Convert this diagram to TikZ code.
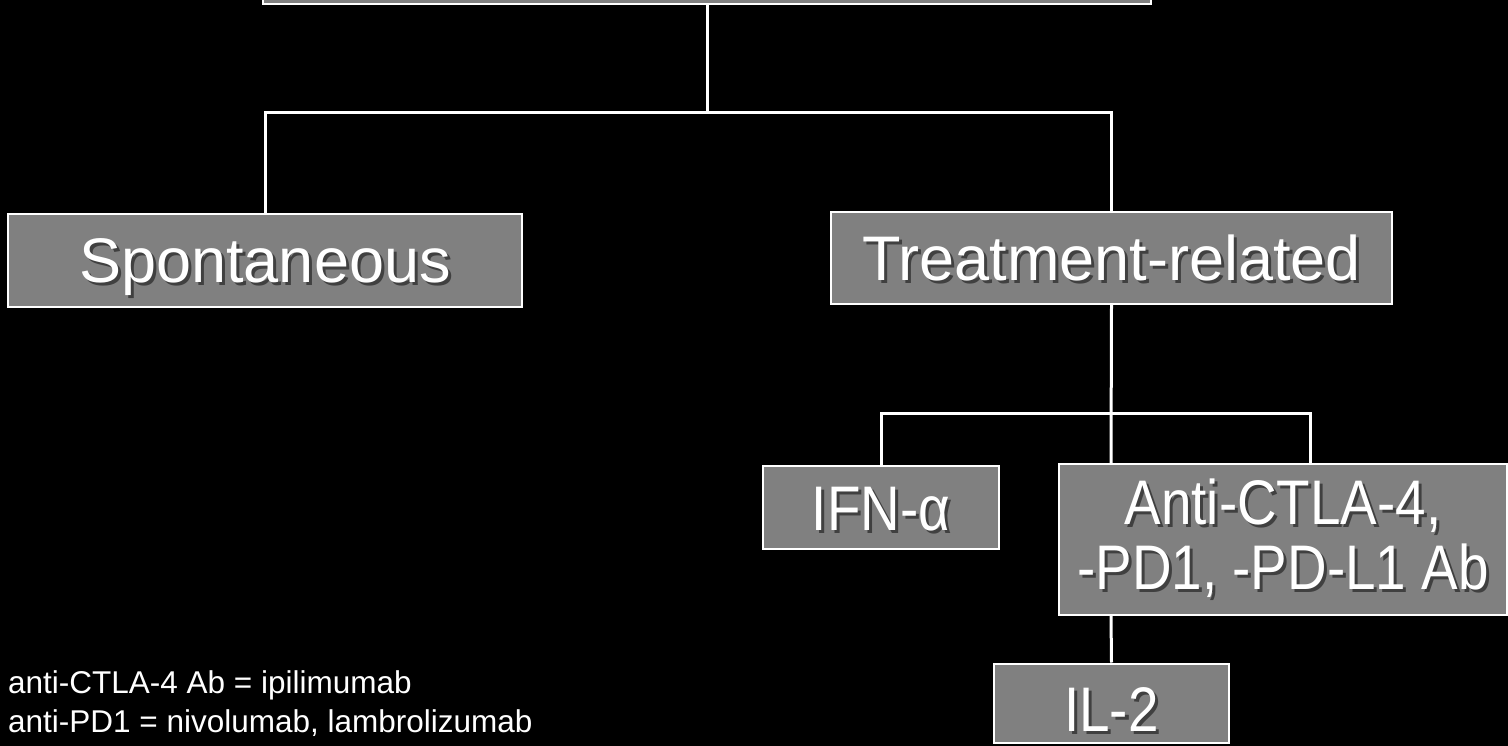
\documentclass[tikz,border=0pt]{standalone}
\usepackage{fontspec}
\setmainfont{Liberation Sans}
\newfontfamily\narrowfont[FakeStretch=0.87]{Liberation Sans}
\definecolor{boxgray}{HTML}{808080}
\newcommand{\shd}[1]{\rlap{\kern3pt\raisebox{-3pt}{\textcolor{black!75}{#1}}}#1}

\begin{document}
\begin{tikzpicture}[x=1pt,y=-1pt,
    box/.style={draw=white, line width=2pt, fill=boxgray, text=white, inner sep=0pt},
    lblbig/.style={font=\fontsize{63}{65}\selectfont},
    lblnarrow/.style={font=\narrowfont\fontsize{63}{65}\selectfont},
    oneline/.style={text height=45pt, text depth=0pt},
    link/.style={draw=white, line width=3pt},
    note/.style={anchor=base west, text=white, inner sep=0pt, font=\fontsize{31.5}{39}\selectfont}]
    \useasboundingbox (0,0) rectangle (1508,746);
    \fill[black] (0,0) rectangle (1508,746);

    \node[box, minimum width=888pt, minimum height=80pt] (top) at (707,-36) {};
    \node[box, lblbig, oneline, minimum width=514pt, minimum height=93pt] (sp) at (265,260.5) {\shd{Spontaneous}};
    \node[box, lblbig, oneline, minimum width=561pt, minimum height=92pt] (tr) at (1111.5,258) {\shd{Treatment-related}};
    \node[box, lblnarrow, oneline, minimum width=236pt, minimum height=83pt] (ifn) at (881,507.5) {\shd{IFN-α}};
    \node[box, lblnarrow, align=center, minimum width=448pt, minimum height=151pt] (ab) at (1283,539.5) {\shd{Anti-CTLA-4,}\\\shd{-PD1, -PD-L1 Ab}};
    \node[box, lblnarrow, text height=56pt, text depth=0pt, minimum width=235pt, minimum height=79pt] (il) at (1111.5,703) {\shd{IL-2}};

    \node[note] (n1) at (8,693) {anti-CTLA-4 Ab = ipilimumab};
    \node[note] (n2) at (8,732) {anti-PD1 = nivolumab, lambrolizumab};

    \coordinate (j1) at (707,113);
    \coordinate (j2) at (1111,413);
    \coordinate (j3) at (1310,413);

    \draw[link] (top.south) -- (j1);
    \draw[link] (sp.north) |- (j1) -| (tr.north);
    \draw[link] (tr.south) -- (j2 |- ab.north);
    \draw[link] (ifn.north) |- (j3) -- (j3 |- ab.north);
    \draw[link] (j2 |- ab.south) -- (il.north);
\end{tikzpicture}
\end{document}
